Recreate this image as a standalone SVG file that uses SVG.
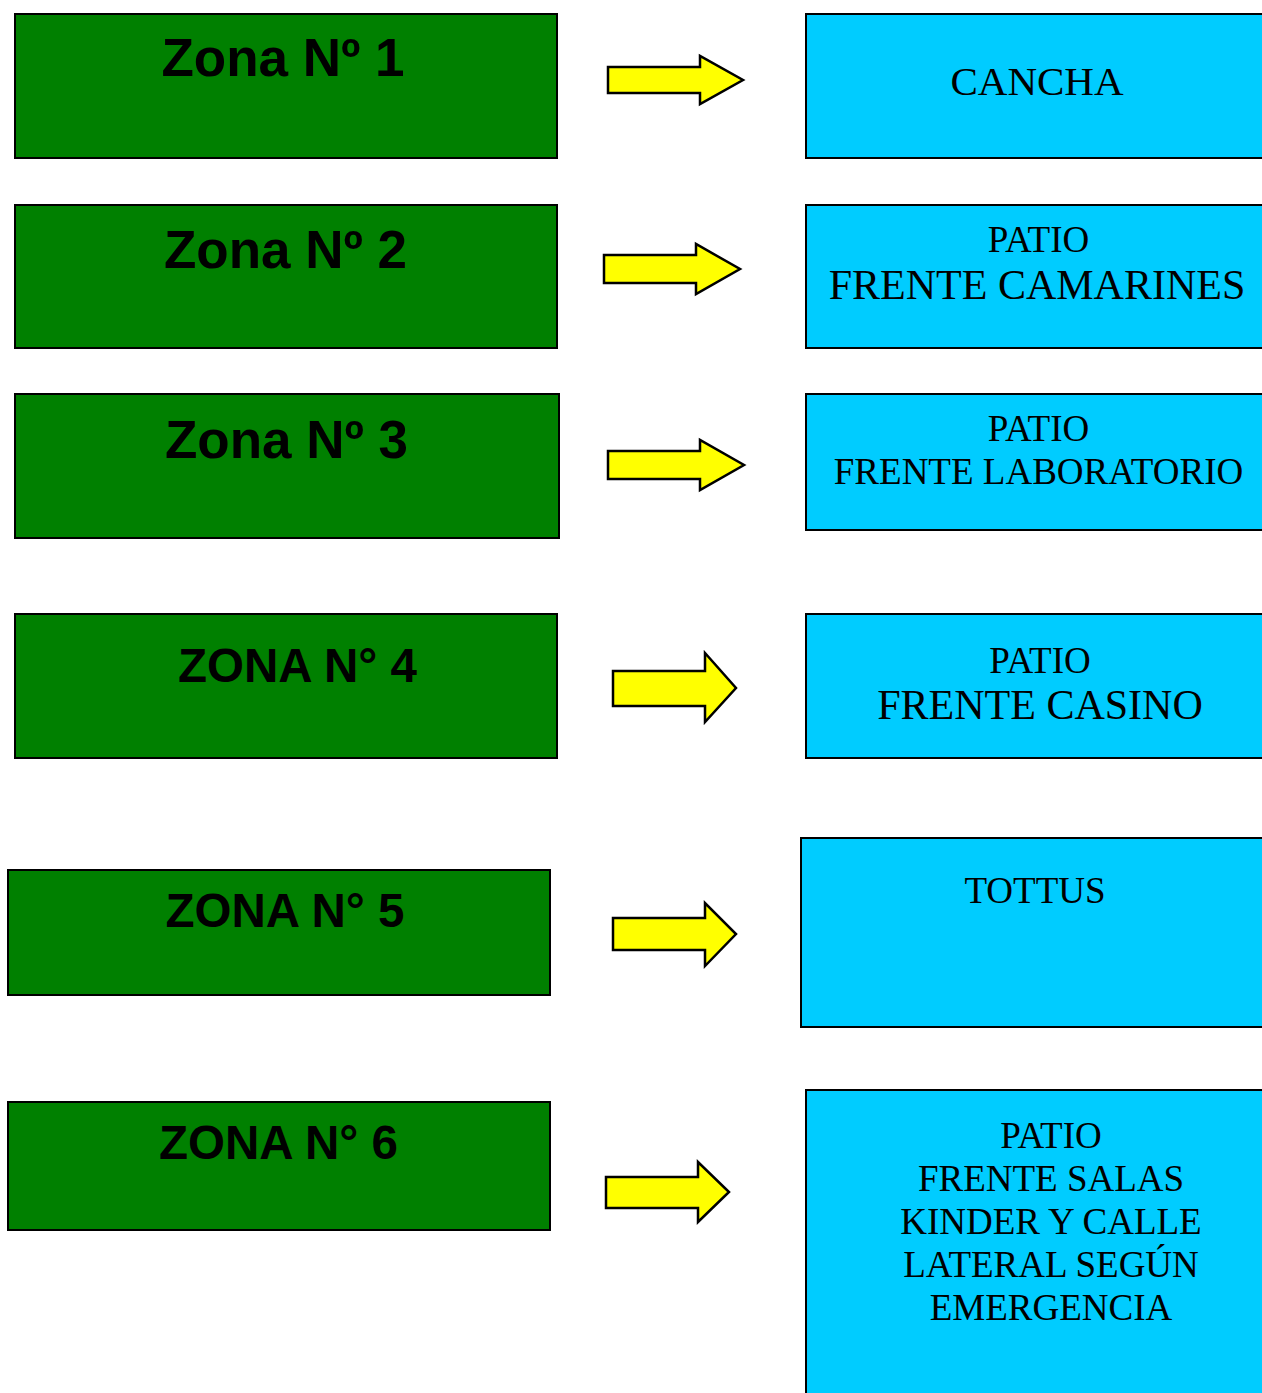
<svg xmlns="http://www.w3.org/2000/svg" width="1262" height="1393" viewBox="0 0 1262 1393">
<style>
.zone{fill:#008000;stroke:#000;stroke-width:2}
.dest{fill:#00CCFF;stroke:#000;stroke-width:2}
.arrow{fill:#FFFF00;stroke:#000;stroke-width:2.5;stroke-linejoin:miter}
.zt{font-family:"Liberation Sans",Arial,sans-serif;font-weight:bold;fill:#000;text-anchor:middle}
.dt{font-family:"Liberation Serif","Times New Roman",serif;fill:#000;text-anchor:middle}
</style>
<rect width="1262" height="1393" fill="#fff"/>
<g id="zona1"><rect class="zone" x="15" y="14" width="542" height="144"/><text class="zt" x="283" y="76" font-size="53">Zona Nº 1</text></g>
<g id="zona2"><rect class="zone" x="15" y="205" width="542" height="143"/><text class="zt" x="285.5" y="268" font-size="53">Zona Nº 2</text></g>
<g id="zona3"><rect class="zone" x="15" y="394" width="544" height="144"/><text class="zt" x="286.5" y="458" font-size="53">Zona Nº 3</text></g>
<g id="zona4"><rect class="zone" x="15" y="614" width="542" height="144"/><text class="zt" x="297.5" y="682" font-size="47.5">ZONA N° 4</text></g>
<g id="zona5"><rect class="zone" x="8" y="870" width="542" height="125"/><text class="zt" x="285" y="927" font-size="47.5">ZONA N° 5</text></g>
<g id="zona6"><rect class="zone" x="8" y="1102" width="542" height="128"/><text class="zt" x="278.5" y="1159" font-size="47.5">ZONA N° 6</text></g>

<g id="dest1"><rect class="dest" x="806" y="14" width="470" height="144"/><text class="dt" x="1037" y="95" font-size="41">CANCHA</text></g>
<g id="dest2"><rect class="dest" x="806" y="205" width="470" height="143"/><text class="dt" x="1038.5" y="252" font-size="37">PATIO</text><text class="dt" x="1037" y="299" font-size="42">FRENTE CAMARINES</text></g>
<g id="dest3"><rect class="dest" x="806" y="394" width="470" height="136"/><text class="dt" x="1038.5" y="441" font-size="37">PATIO</text><text class="dt" x="1038.5" y="484" font-size="37">FRENTE LABORATORIO</text></g>
<g id="dest4"><rect class="dest" x="806" y="614" width="470" height="144"/><text class="dt" x="1040" y="673" font-size="37">PATIO</text><text class="dt" x="1040" y="719" font-size="42">FRENTE CASINO</text></g>
<g id="dest5"><rect class="dest" x="801" y="838" width="475" height="189"/><text class="dt" x="1035" y="903" font-size="37">TOTTUS</text></g>
<g id="dest6"><rect class="dest" x="806" y="1090" width="470" height="320"/><text class="dt" font-size="37"><tspan x="1051" y="1148">PATIO</tspan><tspan x="1051" y="1191">FRENTE SALAS</tspan><tspan x="1051" y="1234">KINDER Y CALLE</tspan><tspan x="1051" y="1277">LATERAL SEGÚN</tspan><tspan x="1051" y="1320">EMERGENCIA</tspan></text></g>

<g id="connectors">
<polygon class="arrow" points="608,67 700,67 700,56 743,80 700,104 700,93 608,93"/>
<polygon class="arrow" points="604,255 696,255 696,244 740,269 696,294 696,283 604,283"/>
<polygon class="arrow" points="608,451 700,451 700,440 744,465 700,490 700,479 608,479"/>
<polygon class="arrow" points="613,671 705,671 705,653 736,688 705,722 705,706 613,706"/>
<polygon class="arrow" points="613,918 705,918 705,903 736,934 705,966 705,950 613,950"/>
<polygon class="arrow" points="606,1177 698,1177 698,1162 729,1192 698,1222 698,1208 606,1208"/>
</g>
</svg>
